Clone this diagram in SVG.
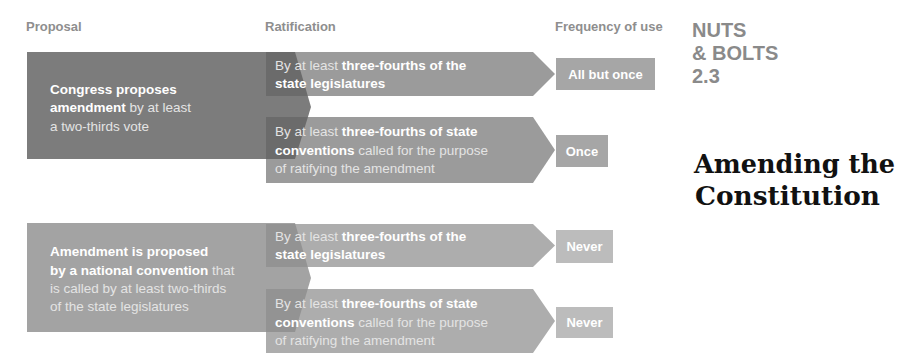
<svg xmlns="http://www.w3.org/2000/svg" width="898" height="364" viewBox="0 0 898 364">
<style>
.hdr{font-family:"Liberation Sans",Arial,sans-serif;font-size:13px;font-weight:bold;fill:#8e8e8e}
.t{font-family:"Liberation Sans",Arial,sans-serif;font-size:13.5px;fill:#e4e4e4}
.t .b{font-weight:bold;fill:#ffffff}
.f{font-family:"Liberation Sans",Arial,sans-serif;font-size:13px;font-weight:bold;fill:#ffffff;text-anchor:middle}
.nb{font-family:"Liberation Sans",Arial,sans-serif;font-size:20px;font-weight:bold;fill:#8a8a8a}
.title{font-family:"DejaVu Serif","Liberation Serif",serif;font-size:26px;font-weight:bold;fill:#111111}
.p1{fill:#7c7c7c}.p1o{fill:#6b6b6b}.r1{fill:#9b9b9b}.q1{fill:#a6a6a6}
.p2{fill:#a3a3a3}.p2o{fill:#939393}.r2{fill:#adadad}.q2{fill:#bcbcbc}
</style>
<defs>
<clipPath id="clipTop">
<polygon points="266,52 533,52 555,74 533,96 266,96"/>
<polygon points="266,117 533,117 555,150 533,183 266,183"/>
</clipPath>
<clipPath id="clipBot">
<polygon points="266,224 533,224 555,245.5 533,267 266,267"/>
<polygon points="266,289 533,289 555,321 533,353 266,353"/>
</clipPath>
</defs>
<rect width="898" height="364" fill="#ffffff"/>
<g id="headers">
<text class="hdr" x="26" y="31">Proposal</text>
<text class="hdr" x="265" y="31">Ratification</text>
<text class="hdr" x="555" y="31">Frequency of use</text>
</g>
<g id="badge">
<text class="nb" x="692" y="37">NUTS</text>
<text class="nb" x="692" y="60">&amp; BOLTS</text>
<text class="nb" x="692" y="83">2.3</text>
</g>
<g id="title">
<text class="title" x="694" y="173" textLength="201" lengthAdjust="spacingAndGlyphs">Amending the</text>
<text class="title" x="695" y="205" textLength="185" lengthAdjust="spacingAndGlyphs">Constitution</text>
</g>
<g id="proposal-congress">
<polygon class="p1" points="27,52 295,52 311,107 295,159 27,159"/>
</g>
<g id="ratify-legislatures-1">
<polygon class="r1" points="266,52 533,52 555,74 533,96 266,96"/>
</g>
<g id="ratify-conventions-1">
<polygon class="r1" points="266,117 533,117 555,150 533,183 266,183"/>
</g>
<polygon class="p1o" clip-path="url(#clipTop)" points="27,52 295,52 311,107 295,159 27,159"/>
<g id="proposal-convention">
<polygon class="p2" points="27,223 295,223 311,278 295,332 27,332"/>
</g>
<g id="ratify-legislatures-2">
<polygon class="r2" points="266,224 533,224 555,245.5 533,267 266,267"/>
</g>
<g id="ratify-conventions-2">
<polygon class="r2" points="266,289 533,289 555,321 533,353 266,353"/>
</g>
<polygon class="p2o" clip-path="url(#clipBot)" points="27,223 295,223 311,278 295,332 27,332"/>
<g id="freq-allbutonce">
<rect class="q1" x="556" y="58" width="99" height="32"/>
<text class="f" x="605.5" y="79">All but once</text>
</g>
<g id="freq-once">
<rect class="q1" x="556" y="135" width="52" height="32"/>
<text class="f" x="582" y="155.5">Once</text>
</g>
<g id="freq-never-1">
<rect class="q2" x="556" y="230" width="57" height="33"/>
<text class="f" x="584.5" y="251">Never</text>
</g>
<g id="freq-never-2">
<rect class="q2" x="556" y="307" width="57" height="31"/>
<text class="f" x="584.5" y="327">Never</text>
</g>
<g id="texts">
<text class="t" x="50" y="94"><tspan class="b">Congress proposes</tspan></text>
<text class="t" x="50" y="112"><tspan class="b">amendment</tspan> by at least</text>
<text class="t" x="50" y="131">a two-thirds vote</text>
<text class="t" x="275" y="70">By at least <tspan class="b">three-fourths of the</tspan></text>
<text class="t" x="275" y="88"><tspan class="b">state legislatures</tspan></text>
<text class="t" x="275" y="136">By at least <tspan class="b">three-fourths of state</tspan></text>
<text class="t" x="275" y="155"><tspan class="b">conventions</tspan> called for the purpose</text>
<text class="t" x="275" y="173">of ratifying the amendment</text>
<text class="t" x="50" y="256"><tspan class="b">Amendment is proposed</tspan></text>
<text class="t" x="50" y="275"><tspan class="b">by a national convention</tspan> that</text>
<text class="t" x="50" y="293">is called by at least two-thirds</text>
<text class="t" x="50" y="311">of the state legislatures</text>
<text class="t" x="275" y="241">By at least <tspan class="b">three-fourths of the</tspan></text>
<text class="t" x="275" y="259"><tspan class="b">state legislatures</tspan></text>
<text class="t" x="275" y="308">By at least <tspan class="b">three-fourths of state</tspan></text>
<text class="t" x="275" y="327"><tspan class="b">conventions</tspan> called for the purpose</text>
<text class="t" x="275" y="345">of ratifying the amendment</text>
</g>
<g id="connectors"/>
</svg>
